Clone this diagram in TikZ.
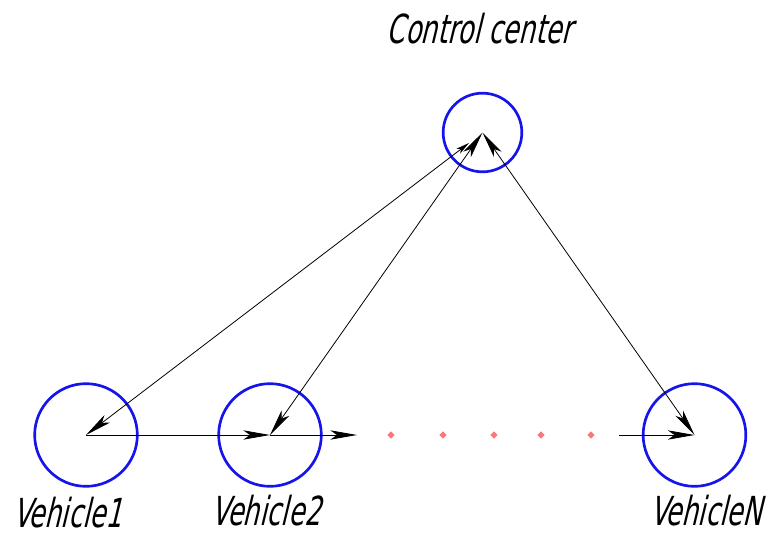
\documentclass[tikz,border=0pt]{standalone}
\usepackage{fontspec}
\usetikzlibrary{arrows.meta,shapes.geometric}
\newfontfamily\labelfont{DejaVu Sans Condensed}[FakeSlant=0.24,FakeStretch=0.72]
\definecolor{ringblue}{RGB}{20,20,235}
\definecolor{dotred}{RGB}{250,120,120}
\tikzset{
  bighead/.tip={Stealth[length=20pt,width=7pt,inset=5pt]},
  smallhead/.tip={Stealth[length=10pt,width=4.5pt,inset=2.5pt]},
}
\begin{document}
\begin{tikzpicture}[x=0.75pt,y=-0.75pt,
  ring/.style={circle,draw=ringblue,line width=2pt,inner sep=0pt},
  bigring/.style={ring,minimum size=77pt},
  smallring/.style={ring,minimum size=59pt},
  caption/.style={font=\labelfont\fontsize{30}{34}\selectfont,inner sep=0pt},
  dotmark/.style={diamond,fill=dotred,inner sep=0pt,minimum size=5.5pt},
  link/.style={line width=0.6pt},
]
\useasboundingbox (0,0) rectangle (769,536);

% stations
\node[smallring] (cc) at (482.5,132.5) {};
\node[bigring] (v1) at (86,435) {};
\node[bigring] (v2) at (270,435) {};
\node[bigring] (vn) at (694.5,435) {};

% captions
\node[caption] (tcc) at (479.5,28.5) {Control center};
\node[caption] (tv1) at (67.5,513) {Vehicle1};
\node[caption] (tv2) at (266,511) {Vehicle2};
\node[caption] (tvn) at (706,511) {VehicleN};

% free ends of the open links
\coordinate (ccin) at (469,143);
\coordinate (v2out) at (357,435);
\coordinate (vnin) at (619,435);

% links with the control center
\draw[link,bighead-smallhead] (v1.center) -- (ccin);
\draw[link,bighead-bighead] (v2.center) -- (cc.center);
\draw[link,bighead-bighead] (cc.center) -- (vn.center);

% chain of vehicles
\draw[link,-bighead] (v1.center) -- (v2.center);
\draw[link,-bighead] (v2.center) -- (v2out);
\draw[link,-bighead] (vnin) -- (vn.center);

% further vehicles
\node[dotmark] (d1) at (391,435) {};
\node[dotmark] (d2) at (443,435) {};
\node[dotmark] (d3) at (494,435) {};
\node[dotmark] (d4) at (541,435) {};
\node[dotmark] (d5) at (591,435) {};
\end{tikzpicture}
\end{document}
